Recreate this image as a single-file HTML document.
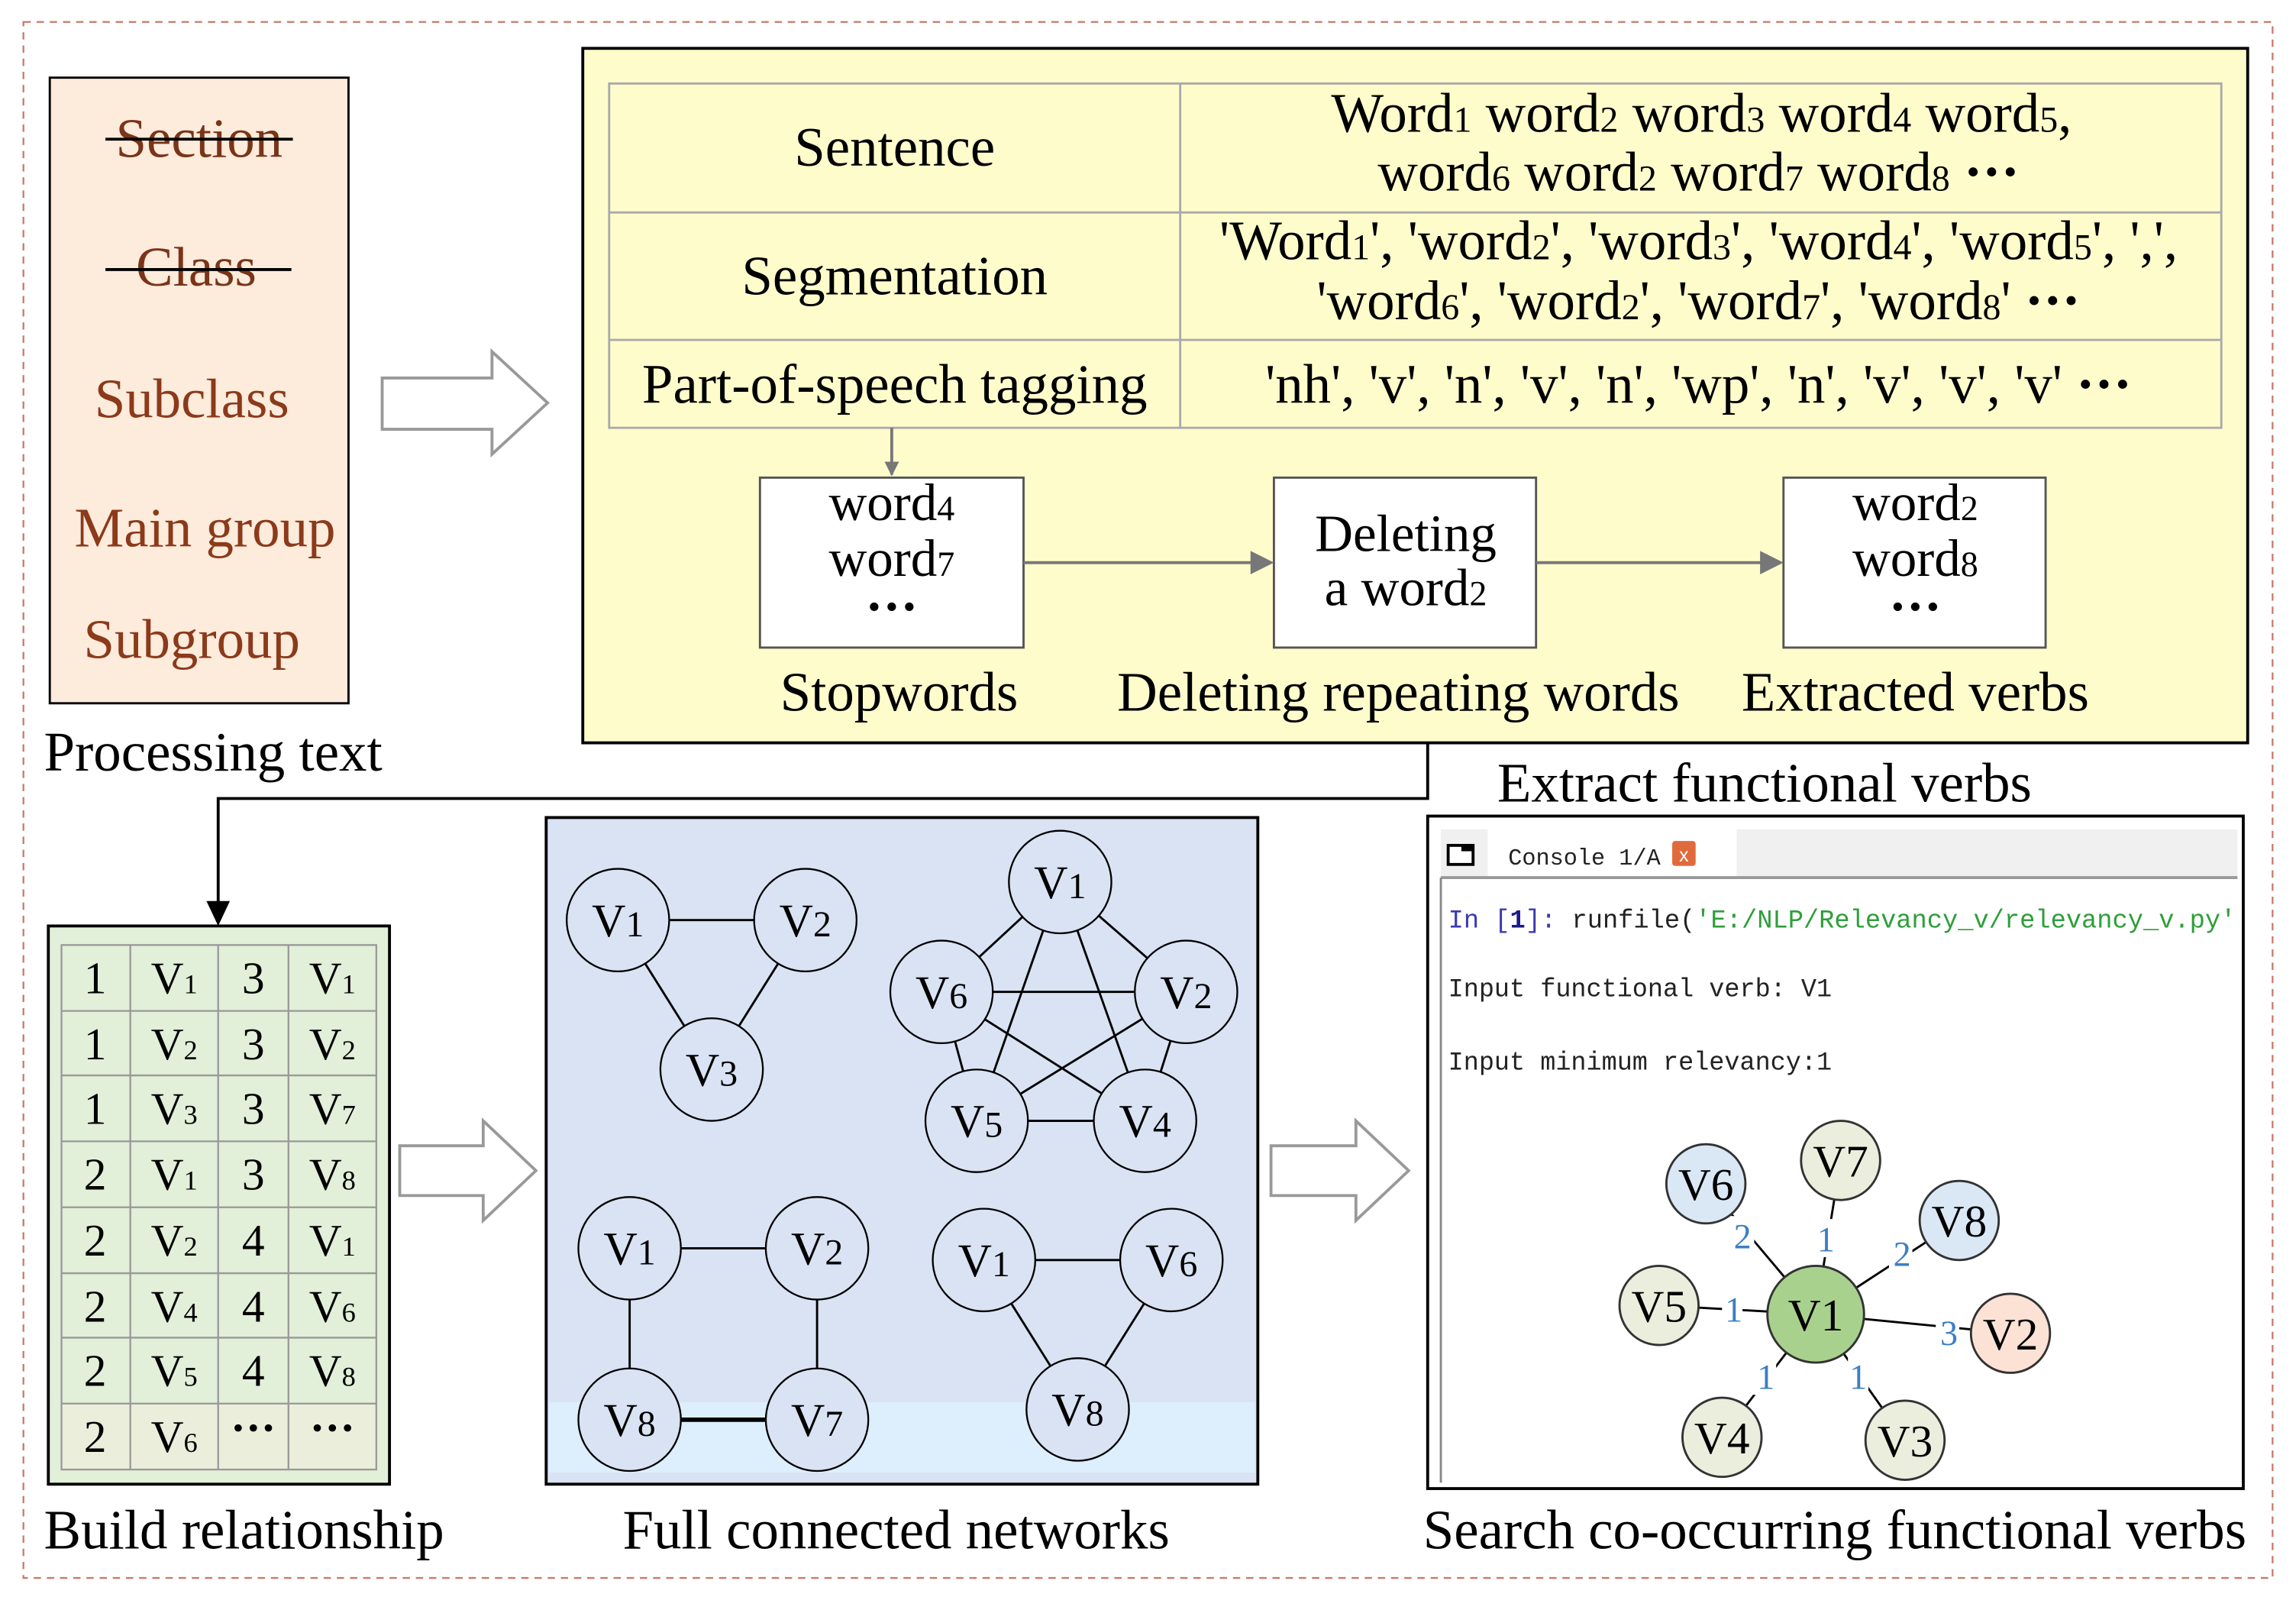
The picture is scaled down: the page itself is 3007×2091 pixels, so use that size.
<!DOCTYPE html>
<html><head><meta charset="utf-8"><style>html,body{margin:0;padding:0;background:#fff}svg{display:block}</style></head>
<body>
<svg xmlns="http://www.w3.org/2000/svg" width="3007" height="2091" viewBox="0 0 1568 1090" preserveAspectRatio="none" font-family="Liberation Serif, serif">
<defs>
<marker id="ag" markerWidth="10" markerHeight="10" refX="9" refY="5" orient="auto" markerUnits="userSpaceOnUse"><path d="M0,0 L10,5 L0,10 z" fill="#777"/></marker>
<marker id="agd" markerWidth="16" markerHeight="16" refX="14" refY="8" orient="auto" markerUnits="userSpaceOnUse"><path d="M0,0 L16,8 L0,16 z" fill="#777"/></marker>
</defs>
<rect x="16" y="15" width="1536" height="1062" fill="none" stroke="#c87a6a" stroke-width="1.2" stroke-dasharray="5,4"/>

<!-- Left box -->
<rect x="34" y="53" width="204" height="427" fill="#fdebdc" stroke="#000" stroke-width="1.5"/>
<g font-size="38" fill="#8b3a1a" text-anchor="middle">
<text x="136" y="107" fill="#7a3418">Section</text>
<text x="134" y="195" fill="#7a3418">Class</text>
<text x="131" y="285">Subclass</text>
<text x="140" y="373">Main group</text>
<text x="131" y="449">Subgroup</text>
</g>
<line x1="72" y1="95" x2="200" y2="95" stroke="#000" stroke-width="2"/>
<line x1="72" y1="184" x2="199" y2="184" stroke="#000" stroke-width="2"/>
<text x="30" y="526" font-size="38">Processing text</text>

<!-- hollow arrows -->
<path d="M261,258 H336 V240 L374,275 L336,310 V293 H261 Z" fill="#fff" stroke="#999" stroke-width="2"/>
<path d="M273,782 H330 V765 L366,799 L330,833 V816 H273 Z" fill="#fff" stroke="#999" stroke-width="2"/>
<path d="M868,782 H926 V765 L962,799 L926,833 V816 H868 Z" fill="#fff" stroke="#999" stroke-width="2"/>

<!-- Yellow box -->
<rect x="398" y="33" width="1137" height="474" fill="#fffccc" stroke="#000" stroke-width="2"/>
<g stroke="#aaa" stroke-width="1.5" fill="none">
<rect x="416" y="57" width="1101" height="235"/>
<line x1="416" y1="145" x2="1517" y2="145"/>
<line x1="416" y1="232" x2="1517" y2="232"/>
<line x1="806" y1="57" x2="806" y2="292"/>
</g>
<g font-size="38" text-anchor="middle">
<text x="611" y="113">Sentence</text>
<text x="611" y="201">Segmentation</text>
<text x="611" y="275">Part-of-speech tagging</text>
<text x="1162" y="90">Word<tspan font-size="25">1</tspan> word<tspan font-size="25">2</tspan> word<tspan font-size="25">3</tspan> word<tspan font-size="25">4</tspan> word<tspan font-size="25">5</tspan>,</text>
<text x="1160" y="130">word<tspan font-size="25">6</tspan> word<tspan font-size="25">2</tspan> word<tspan font-size="25">7</tspan> word<tspan font-size="25">8</tspan> <tspan font-weight="bold">···</tspan></text>
<text x="1160" y="177">'Word<tspan font-size="25">1</tspan>', 'word<tspan font-size="25">2</tspan>', 'word<tspan font-size="25">3</tspan>', 'word<tspan font-size="25">4</tspan>', 'word<tspan font-size="25">5</tspan>', ',',</text>
<text x="1160" y="218">'word<tspan font-size="25">6</tspan>', 'word<tspan font-size="25">2</tspan>', 'word<tspan font-size="25">7</tspan>', 'word<tspan font-size="25">8</tspan>' <tspan font-weight="bold">···</tspan></text>
<text x="1160" y="275">'nh', 'v', 'n', 'v', 'n', 'wp', 'n', 'v', 'v', 'v' <tspan font-weight="bold">···</tspan></text>
</g>
<line x1="609" y1="292" x2="609" y2="324" stroke="#777" stroke-width="2" marker-end="url(#ag)"/>
<g fill="#fff" stroke="#555" stroke-width="1.5">
<rect x="519" y="326" width="180" height="116"/>
<rect x="870" y="326" width="179" height="116"/>
<rect x="1218" y="326" width="179" height="116"/>
</g>
<line x1="699" y1="384" x2="868" y2="384" stroke="#777" stroke-width="2" marker-end="url(#agd)"/>
<line x1="1049" y1="384" x2="1216" y2="384" stroke="#777" stroke-width="2" marker-end="url(#agd)"/>
<g font-size="36" text-anchor="middle">
<text x="609" y="355">word<tspan font-size="24">4</tspan></text>
<text x="609" y="393">word<tspan font-size="24">7</tspan></text>
<text x="609" y="426" font-weight="bold">···</text>
<text x="960" y="376">Deleting</text>
<text x="960" y="413">a word<tspan font-size="24">2</tspan></text>
<text x="1308" y="355">word<tspan font-size="24">2</tspan></text>
<text x="1308" y="393">word<tspan font-size="24">8</tspan></text>
<text x="1308" y="426" font-weight="bold">···</text>
</g>
<g font-size="38" text-anchor="middle">
<text x="614" y="485">Stopwords</text>
<text x="955" y="485">Deleting repeating words</text>
<text x="1308" y="485">Extracted verbs</text>
<text x="1205" y="547">Extract functional verbs</text>
</g>

<!-- connector -->
<path d="M975,507 V545 H149 V618" fill="none" stroke="#000" stroke-width="2"/>
<path d="M141,615 L157,615 L149,632 Z" fill="#000"/>

<!-- green table -->
<rect x="33" y="632" width="233" height="381" fill="#e2efd9" stroke="#000" stroke-width="2"/>
<rect x="42" y="959" width="215" height="44" fill="#ebeedb"/>
<g stroke="#999" stroke-width="1.2" fill="none">
<rect x="42" y="645" width="215" height="358"/>
<line x1="89" y1="645" x2="89" y2="1003"/><line x1="149" y1="645" x2="149" y2="1003"/><line x1="197" y1="645" x2="197" y2="1003"/>
<line x1="42" y1="690" x2="257" y2="690"/><line x1="42" y1="734" x2="257" y2="734"/><line x1="42" y1="779" x2="257" y2="779"/><line x1="42" y1="824" x2="257" y2="824"/><line x1="42" y1="869" x2="257" y2="869"/><line x1="42" y1="913" x2="257" y2="913"/><line x1="42" y1="958" x2="257" y2="958"/>
</g>
<g font-size="31" text-anchor="middle">
<text x="65" y="678">1</text><text x="119" y="678">V<tspan font-size="19">1</tspan></text><text x="173" y="678">3</text><text x="227" y="678">V<tspan font-size="19">1</tspan></text>
<text x="65" y="723">1</text><text x="119" y="723">V<tspan font-size="19">2</tspan></text><text x="173" y="723">3</text><text x="227" y="723">V<tspan font-size="19">2</tspan></text>
<text x="65" y="767">1</text><text x="119" y="767">V<tspan font-size="19">3</tspan></text><text x="173" y="767">3</text><text x="227" y="767">V<tspan font-size="19">7</tspan></text>
<text x="65" y="812">2</text><text x="119" y="812">V<tspan font-size="19">1</tspan></text><text x="173" y="812">3</text><text x="227" y="812">V<tspan font-size="19">8</tspan></text>
<text x="65" y="857">2</text><text x="119" y="857">V<tspan font-size="19">2</tspan></text><text x="173" y="857">4</text><text x="227" y="857">V<tspan font-size="19">1</tspan></text>
<text x="65" y="902">2</text><text x="119" y="902">V<tspan font-size="19">4</tspan></text><text x="173" y="902">4</text><text x="227" y="902">V<tspan font-size="19">6</tspan></text>
<text x="65" y="946">2</text><text x="119" y="946">V<tspan font-size="19">5</tspan></text><text x="173" y="946">4</text><text x="227" y="946">V<tspan font-size="19">8</tspan></text>
<text x="65" y="991">2</text><text x="119" y="991">V<tspan font-size="19">6</tspan></text><text x="173" y="985" font-weight="bold">···</text><text x="227" y="985" font-weight="bold">···</text>
</g>
<text x="30" y="1057" font-size="38">Build relationship</text>

<!-- blue box -->
<rect x="373" y="558" width="486" height="455" fill="#dae3f3" stroke="#000" stroke-width="2"/>
<rect x="375" y="957" width="482" height="48" fill="#ddeefd"/>
<g stroke="#000" stroke-width="1.5">
<line x1="422" y1="628" x2="550" y2="628"/><line x1="422" y1="628" x2="486" y2="730"/><line x1="550" y1="628" x2="486" y2="730"/>
<line x1="724" y1="602" x2="643" y2="677"/><line x1="724" y1="602" x2="810" y2="677"/><line x1="724" y1="602" x2="667" y2="765"/><line x1="724" y1="602" x2="782" y2="765"/>
<line x1="643" y1="677" x2="810" y2="677"/><line x1="643" y1="677" x2="667" y2="765"/><line x1="643" y1="677" x2="782" y2="765"/>
<line x1="810" y1="677" x2="667" y2="765"/><line x1="810" y1="677" x2="782" y2="765"/><line x1="667" y1="765" x2="782" y2="765"/>
<line x1="430" y1="852" x2="558" y2="852"/><line x1="430" y1="852" x2="430" y2="969"/><line x1="558" y1="852" x2="558" y2="969"/><line x1="430" y1="969" x2="558" y2="969" stroke-width="3"/>
<line x1="672" y1="860" x2="800" y2="860"/><line x1="672" y1="860" x2="736" y2="962"/><line x1="800" y1="860" x2="736" y2="962"/>
</g>
<g fill="#dae3f3" stroke="#000" stroke-width="1.2">
<circle cx="422" cy="628" r="35"/><circle cx="550" cy="628" r="35"/><circle cx="486" cy="730" r="35"/>
<circle cx="724" cy="602" r="35"/><circle cx="643" cy="677" r="35"/><circle cx="810" cy="677" r="35"/><circle cx="667" cy="765" r="35"/><circle cx="782" cy="765" r="35"/>
<circle cx="430" cy="852" r="35"/><circle cx="558" cy="852" r="35"/><circle cx="430" cy="969" r="35"/><circle cx="558" cy="969" r="35"/>
<circle cx="672" cy="860" r="35"/><circle cx="800" cy="860" r="35"/><circle cx="736" cy="962" r="35"/>
</g>
<g font-size="32" text-anchor="middle">
<text x="422" y="639">V<tspan font-size="25">1</tspan></text><text x="550" y="639">V<tspan font-size="25">2</tspan></text><text x="486" y="741">V<tspan font-size="25">3</tspan></text>
<text x="724" y="613">V<tspan font-size="25">1</tspan></text><text x="643" y="688">V<tspan font-size="25">6</tspan></text><text x="810" y="688">V<tspan font-size="25">2</tspan></text><text x="667" y="776">V<tspan font-size="25">5</tspan></text><text x="782" y="776">V<tspan font-size="25">4</tspan></text>
<text x="430" y="863">V<tspan font-size="25">1</tspan></text><text x="558" y="863">V<tspan font-size="25">2</tspan></text><text x="430" y="980">V<tspan font-size="25">8</tspan></text><text x="558" y="980">V<tspan font-size="25">7</tspan></text>
<text x="672" y="871">V<tspan font-size="25">1</tspan></text><text x="800" y="871">V<tspan font-size="25">6</tspan></text><text x="736" y="973">V<tspan font-size="25">8</tspan></text>
</g>
<text x="612" y="1057" font-size="38" text-anchor="middle">Full connected networks</text>

<!-- console -->
<rect x="975" y="557" width="557" height="459" fill="#fff" stroke="#000" stroke-width="2"/>
<rect x="984" y="566" width="544" height="32" fill="#f0f0f0"/>
<rect x="1016" y="566" width="170" height="32" fill="#fff"/>
<line x1="984" y1="599" x2="1528" y2="599" stroke="#999" stroke-width="2"/>
<line x1="984" y1="599" x2="984" y2="1012" stroke="#888" stroke-width="1.5"/>
<rect x="989" y="577" width="17" height="13" fill="#fff" stroke="#000" stroke-width="2"/>
<rect x="998" y="577" width="8" height="4" fill="#000"/>
<text x="1030" y="590" font-family="Liberation Mono, monospace" font-size="16" fill="#222" textLength="104" lengthAdjust="spacingAndGlyphs">Console 1/A</text>
<rect x="1142" y="574" width="16" height="17" fill="#e06a3c" rx="2"/>
<text x="1150" y="588" font-family="Liberation Sans, sans-serif" font-size="13" fill="#fff" text-anchor="middle">x</text>
<g font-family="Liberation Mono, monospace" font-size="18">
<text x="989" y="633" textLength="538" lengthAdjust="spacingAndGlyphs"><tspan fill="#3a3ab0">In [</tspan><tspan fill="#1a1a8a" font-weight="bold">1</tspan><tspan fill="#3a3ab0">]: </tspan><tspan fill="#222">runfile(</tspan><tspan fill="#2e9e3a">'E:/NLP/Relevancy_v/relevancy_v.py'</tspan></text>
<text x="989" y="680" fill="#222" textLength="262" lengthAdjust="spacingAndGlyphs">Input functional verb: V1</text>
<text x="989" y="730" fill="#222" textLength="262" lengthAdjust="spacingAndGlyphs">Input minimum relevancy:1</text>
</g>
<g stroke="#000" stroke-width="1.5">
<line x1="1240" y1="897" x2="1165" y2="808"/><line x1="1240" y1="897" x2="1257" y2="792"/><line x1="1240" y1="897" x2="1338" y2="833"/>
<line x1="1240" y1="897" x2="1133" y2="891"/><line x1="1240" y1="897" x2="1373" y2="910"/><line x1="1240" y1="897" x2="1176" y2="981"/><line x1="1240" y1="897" x2="1301" y2="983"/>
</g>
<g fill="#fff">
<rect x="1180" y="830" width="18" height="26"/><rect x="1240" y="832" width="14" height="26"/><rect x="1290" y="842" width="16" height="26"/><rect x="1176" y="880" width="14" height="26"/><rect x="1322" y="896" width="16" height="26"/><rect x="1197" y="926" width="16" height="26"/><rect x="1262" y="926" width="14" height="26"/>
</g>
<g font-size="24" fill="#3b7fc4" text-anchor="middle">
<text x="1190" y="852">2</text><text x="1247" y="854">1</text><text x="1299" y="864">2</text><text x="1184" y="902">1</text><text x="1331" y="918">3</text><text x="1206" y="948">1</text><text x="1269" y="948">1</text>
</g>
<g stroke="#333" stroke-width="1.5">
<circle cx="1165" cy="808" r="27" fill="#dae8f5"/><circle cx="1257" cy="792" r="27" fill="#ebeedd"/><circle cx="1338" cy="833" r="27" fill="#dae8f5"/>
<circle cx="1133" cy="891" r="27" fill="#ebeedd"/><circle cx="1373" cy="910" r="27" fill="#fbe2d5"/><circle cx="1176" cy="981" r="27" fill="#ebeedd"/><circle cx="1301" cy="983" r="27" fill="#ebeedd"/>
<circle cx="1240" cy="897" r="33" fill="#a9d18e"/>
</g>
<g font-size="31" text-anchor="middle">
<text x="1165" y="819">V6</text><text x="1257" y="803">V7</text><text x="1338" y="844">V8</text><text x="1133" y="902">V5</text><text x="1373" y="921">V2</text><text x="1176" y="992">V4</text><text x="1301" y="994">V3</text><text x="1240" y="908">V1</text>
</g>
<text x="1253" y="1057" font-size="38" text-anchor="middle">Search co-occurring functional verbs</text>
</svg>
</body></html>
